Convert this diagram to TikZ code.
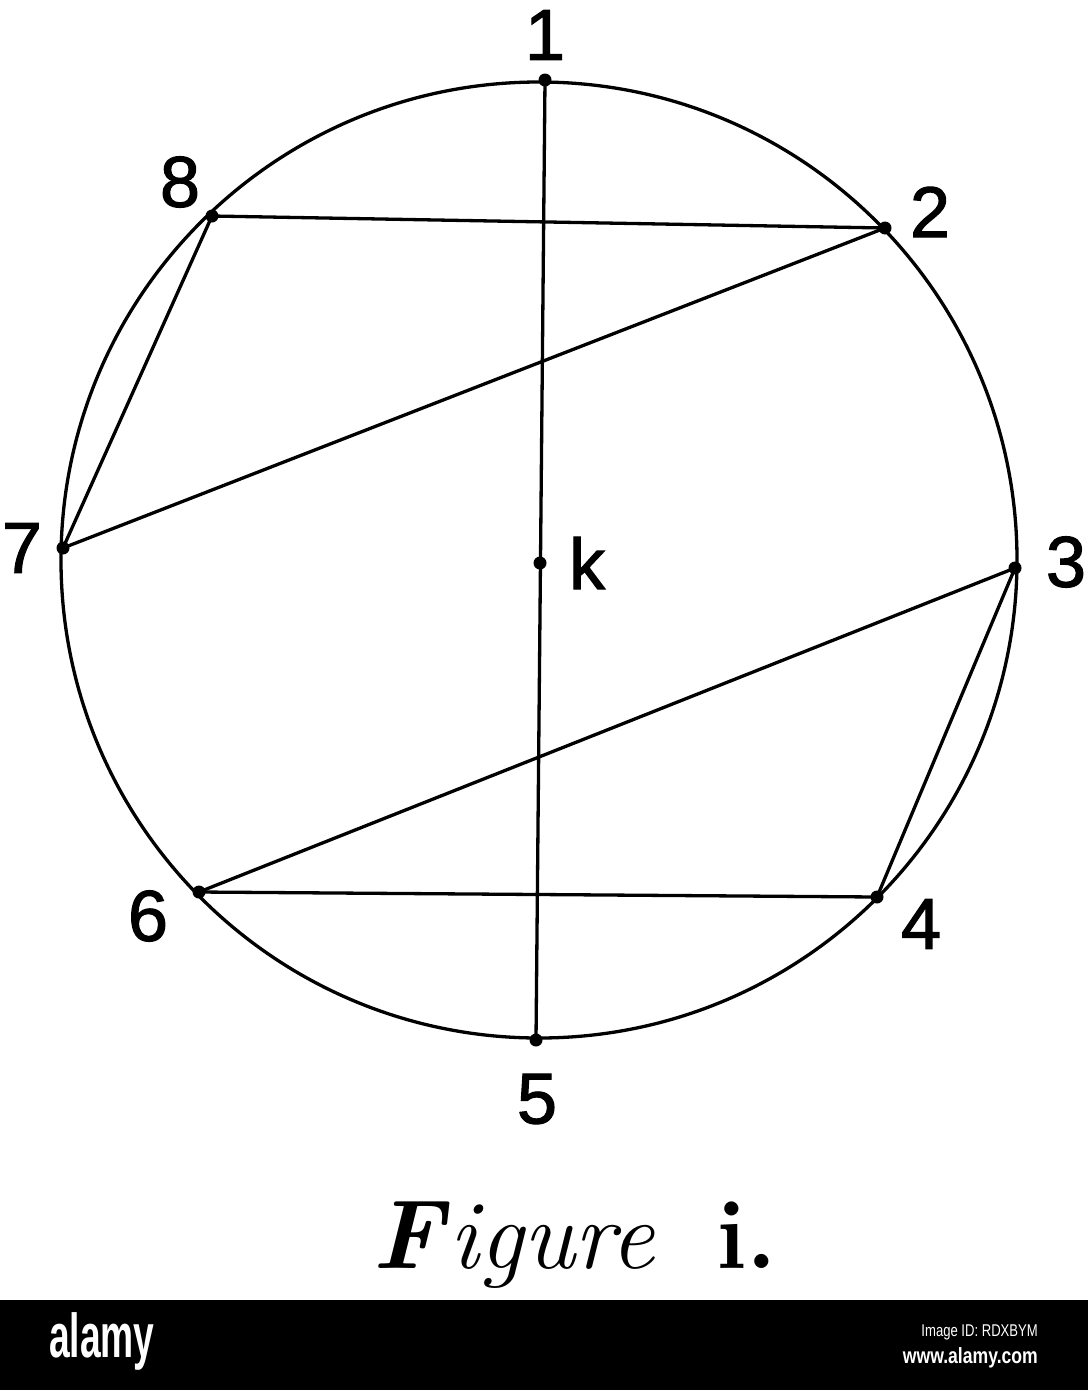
\documentclass[tikz,border=0pt]{standalone}
\usepackage{fontspec}
\newfontfamily\digitfont[FakeBold=1.6]{Liberation Sans}
\newfontfamily\bandfont{Liberation Sans}
\begin{document}
\begin{tikzpicture}[x=1pt,y=-1pt,
  figline/.style={line width=3.3pt, line cap=round},
  pt/.style={circle, fill=black, inner sep=0pt, minimum size=13pt},
  lbl/.style={font=\digitfont\fontsize{72}{72}\selectfont, inner sep=0pt}
]
\useasboundingbox (0,0) rectangle (1088,1390);
\fill[white] (0,0) rectangle (1088,1300);
\fill[black] (0,1300) rectangle (1088,1390);

% circle
\draw[figline] (539,560) circle[radius=478pt];

% points
\node[pt] (p1) at (545,80) {};
\node[pt] (p2) at (885,228) {};
\node[pt] (p3) at (1015,568) {};
\node[pt] (p4) at (877,897) {};
\node[pt] (p5) at (536,1040) {};
\node[pt] (p6) at (199,892) {};
\node[pt] (p7) at (63,548) {};
\node[pt] (p8) at (212,216) {};
\node[pt] (k) at (540,563) {};

% chords
\draw[figline] (p1.center) -- (p5.center);
\draw[figline] (p8.center) -- (p2.center);
\draw[figline] (p2.center) -- (p7.center);
\draw[figline] (p7.center) -- (p8.center);
\draw[figline] (p3.center) -- (p6.center);
\draw[figline] (p3.center) -- (p4.center);
\draw[figline] (p6.center) -- (p4.center);

% labels
\node[lbl] (l1) at (545,35) {1};
\node[lbl] (l2) at (930,212) {2};
\node[lbl] (l3) at (1066,562) {3};
\node[lbl] (l4) at (921,924) {4};
\node[lbl] (l5) at (537,1099) {5};
\node[lbl] (l6) at (148,916) {6};
\node[lbl] (l7) at (22,548) {7};
\node[lbl] (l8) at (180,182) {8};
\node[lbl] (lk) at (587,563) {k};

% caption
\node[anchor=base west, inner sep=0pt, font=\fontsize{98}{98}\selectfont] (cap) at (372,1268) {\textbf{\textit{F}}\textit{igure}};
\node[anchor=base west, inner sep=0pt, font=\fontsize{98}{98}\selectfont\bfseries] (capi) at (716,1268) {i.};

% band text
\node[anchor=base west, inner sep=0pt, text=white, xscale=0.6, font=\bandfont\bfseries\fontsize{62}{62}\selectfont] (alamy) at (49,1357) {alamy};
\node[anchor=east, inner sep=0pt, text=white, xscale=0.77, font=\bandfont\fontsize{17}{17}\selectfont] (imgid) at (1038,1332) {Image ID: RDXBYM};
\node[anchor=east, inner sep=0pt, text=white, xscale=0.8, font=\bandfont\bfseries\fontsize{22}{22}\selectfont] (www) at (1038,1358) {www.alamy.com};
\end{tikzpicture}
\end{document}
